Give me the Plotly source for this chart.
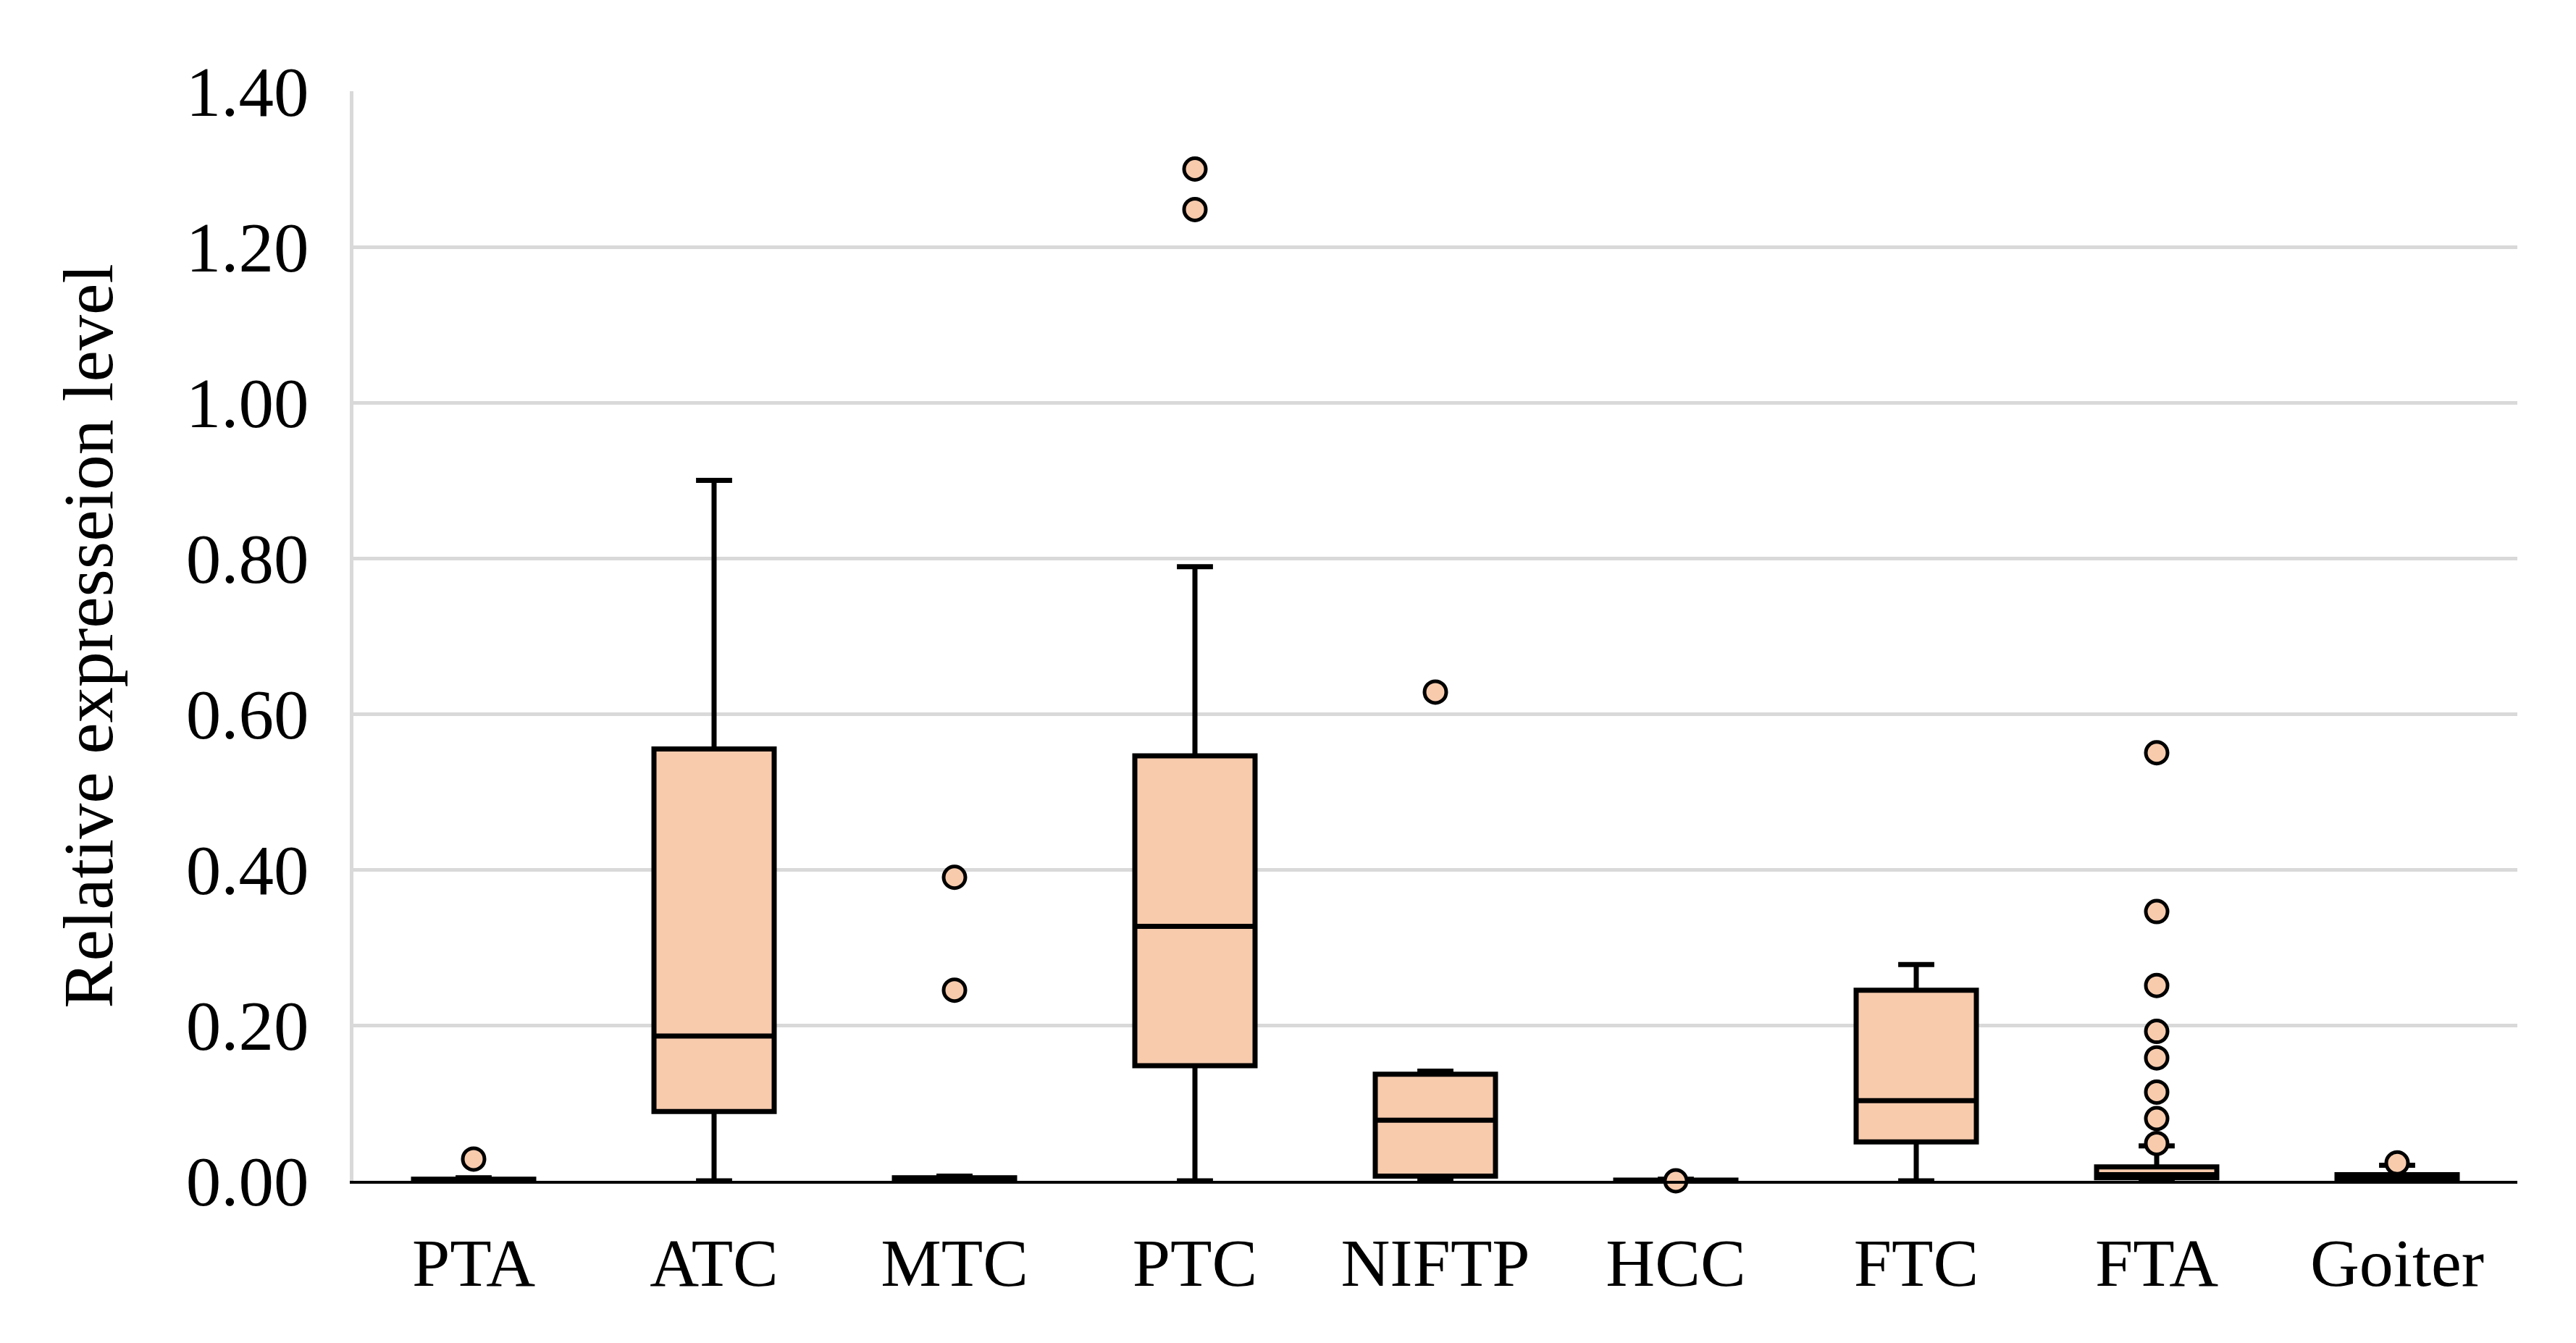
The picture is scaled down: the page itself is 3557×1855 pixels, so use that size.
import plotly.graph_objects as go

categories = ["PTA", "ATC", "MTC", "PTC", "NIFTP", "HCC", "FTC", "FTA", "Goiter"]
q1 = [0.000, 0.089, 0.000, 0.148, 0.006, 0.000, 0.050, 0.004, 0.001]
median = [0.001, 0.186, 0.002, 0.327, 0.078, 0.000, 0.103, 0.008, 0.004]
q3 = [0.002, 0.555, 0.004, 0.546, 0.137, 0.001, 0.245, 0.018, 0.008]
lowerfence = [0.000, 0.000, 0.000, 0.000, 0.002, 0.000, 0.000, 0.000, 0.000]
upperfence = [0.004, 0.900, 0.006, 0.789, 0.141, 0.002, 0.278, 0.045, 0.020]

outlier_cats = ["PTA", "MTC", "MTC", "PTC", "PTC", "NIFTP", "HCC",
                "FTA", "FTA", "FTA", "FTA", "FTA", "FTA", "FTA", "FTA", "Goiter"]
outlier_vals = [0.028, 0.390, 0.245, 1.300, 1.248, 0.628, 0.000,
                0.550, 0.346, 0.251, 0.192, 0.158, 0.114, 0.080, 0.048, 0.023]

y_ticks = [0.0, 0.2, 0.4, 0.6, 0.8, 1.0, 1.2, 1.4]
y_ticktext = ["0.00", "0.20", "0.40", "0.60", "0.80", "1.00", "1.20", "1.40"]

FILL = "#F8CBAD"
FONT = "Liberation Serif"

fig = go.Figure()
fig.add_trace(go.Box(
    x=categories, q1=q1, median=median, q3=q3,
    lowerfence=lowerfence, upperfence=upperfence,
    fillcolor=FILL, line=dict(color="black", width=7),
    whiskerwidth=0.3, width=0.5, boxpoints=False, showlegend=False,
))
fig.add_trace(go.Scatter(
    x=outlier_cats, y=outlier_vals, mode="markers",
    marker=dict(size=30, color=FILL, line=dict(color="black", width=5)),
    showlegend=False, cliponaxis=False,
))

fig.update_layout(
    width=3557, height=1855,
    margin=dict(l=480, r=89, t=118, b=232),
    plot_bgcolor="white", paper_bgcolor="white",
    font=dict(family=FONT, size=94, color="black"),
)
fig.update_xaxes(
    type="category", categoryorder="array", categoryarray=categories,
    range=[-0.5, 8.5],
    showline=True, linecolor="black", linewidth=4,
    showgrid=False, ticks="", ticklabelstandoff=28,
    tickfont=dict(family=FONT, size=94, color="black"),
)
fig.update_yaxes(
    range=[0, 1.4], tickvals=y_ticks, ticktext=y_ticktext,
    showgrid=True, gridcolor="#D9D9D9", gridwidth=5,
    showline=True, linecolor="#D9D9D9", linewidth=5,
    zeroline=False, ticks="", ticklabelstandoff=37,
    tickfont=dict(family=FONT, size=97, color="black"),
    title=dict(text="Relative expresseion level", standoff=70,
               font=dict(family=FONT, size=98, color="black")),
)

fig.write_html("out.html")
